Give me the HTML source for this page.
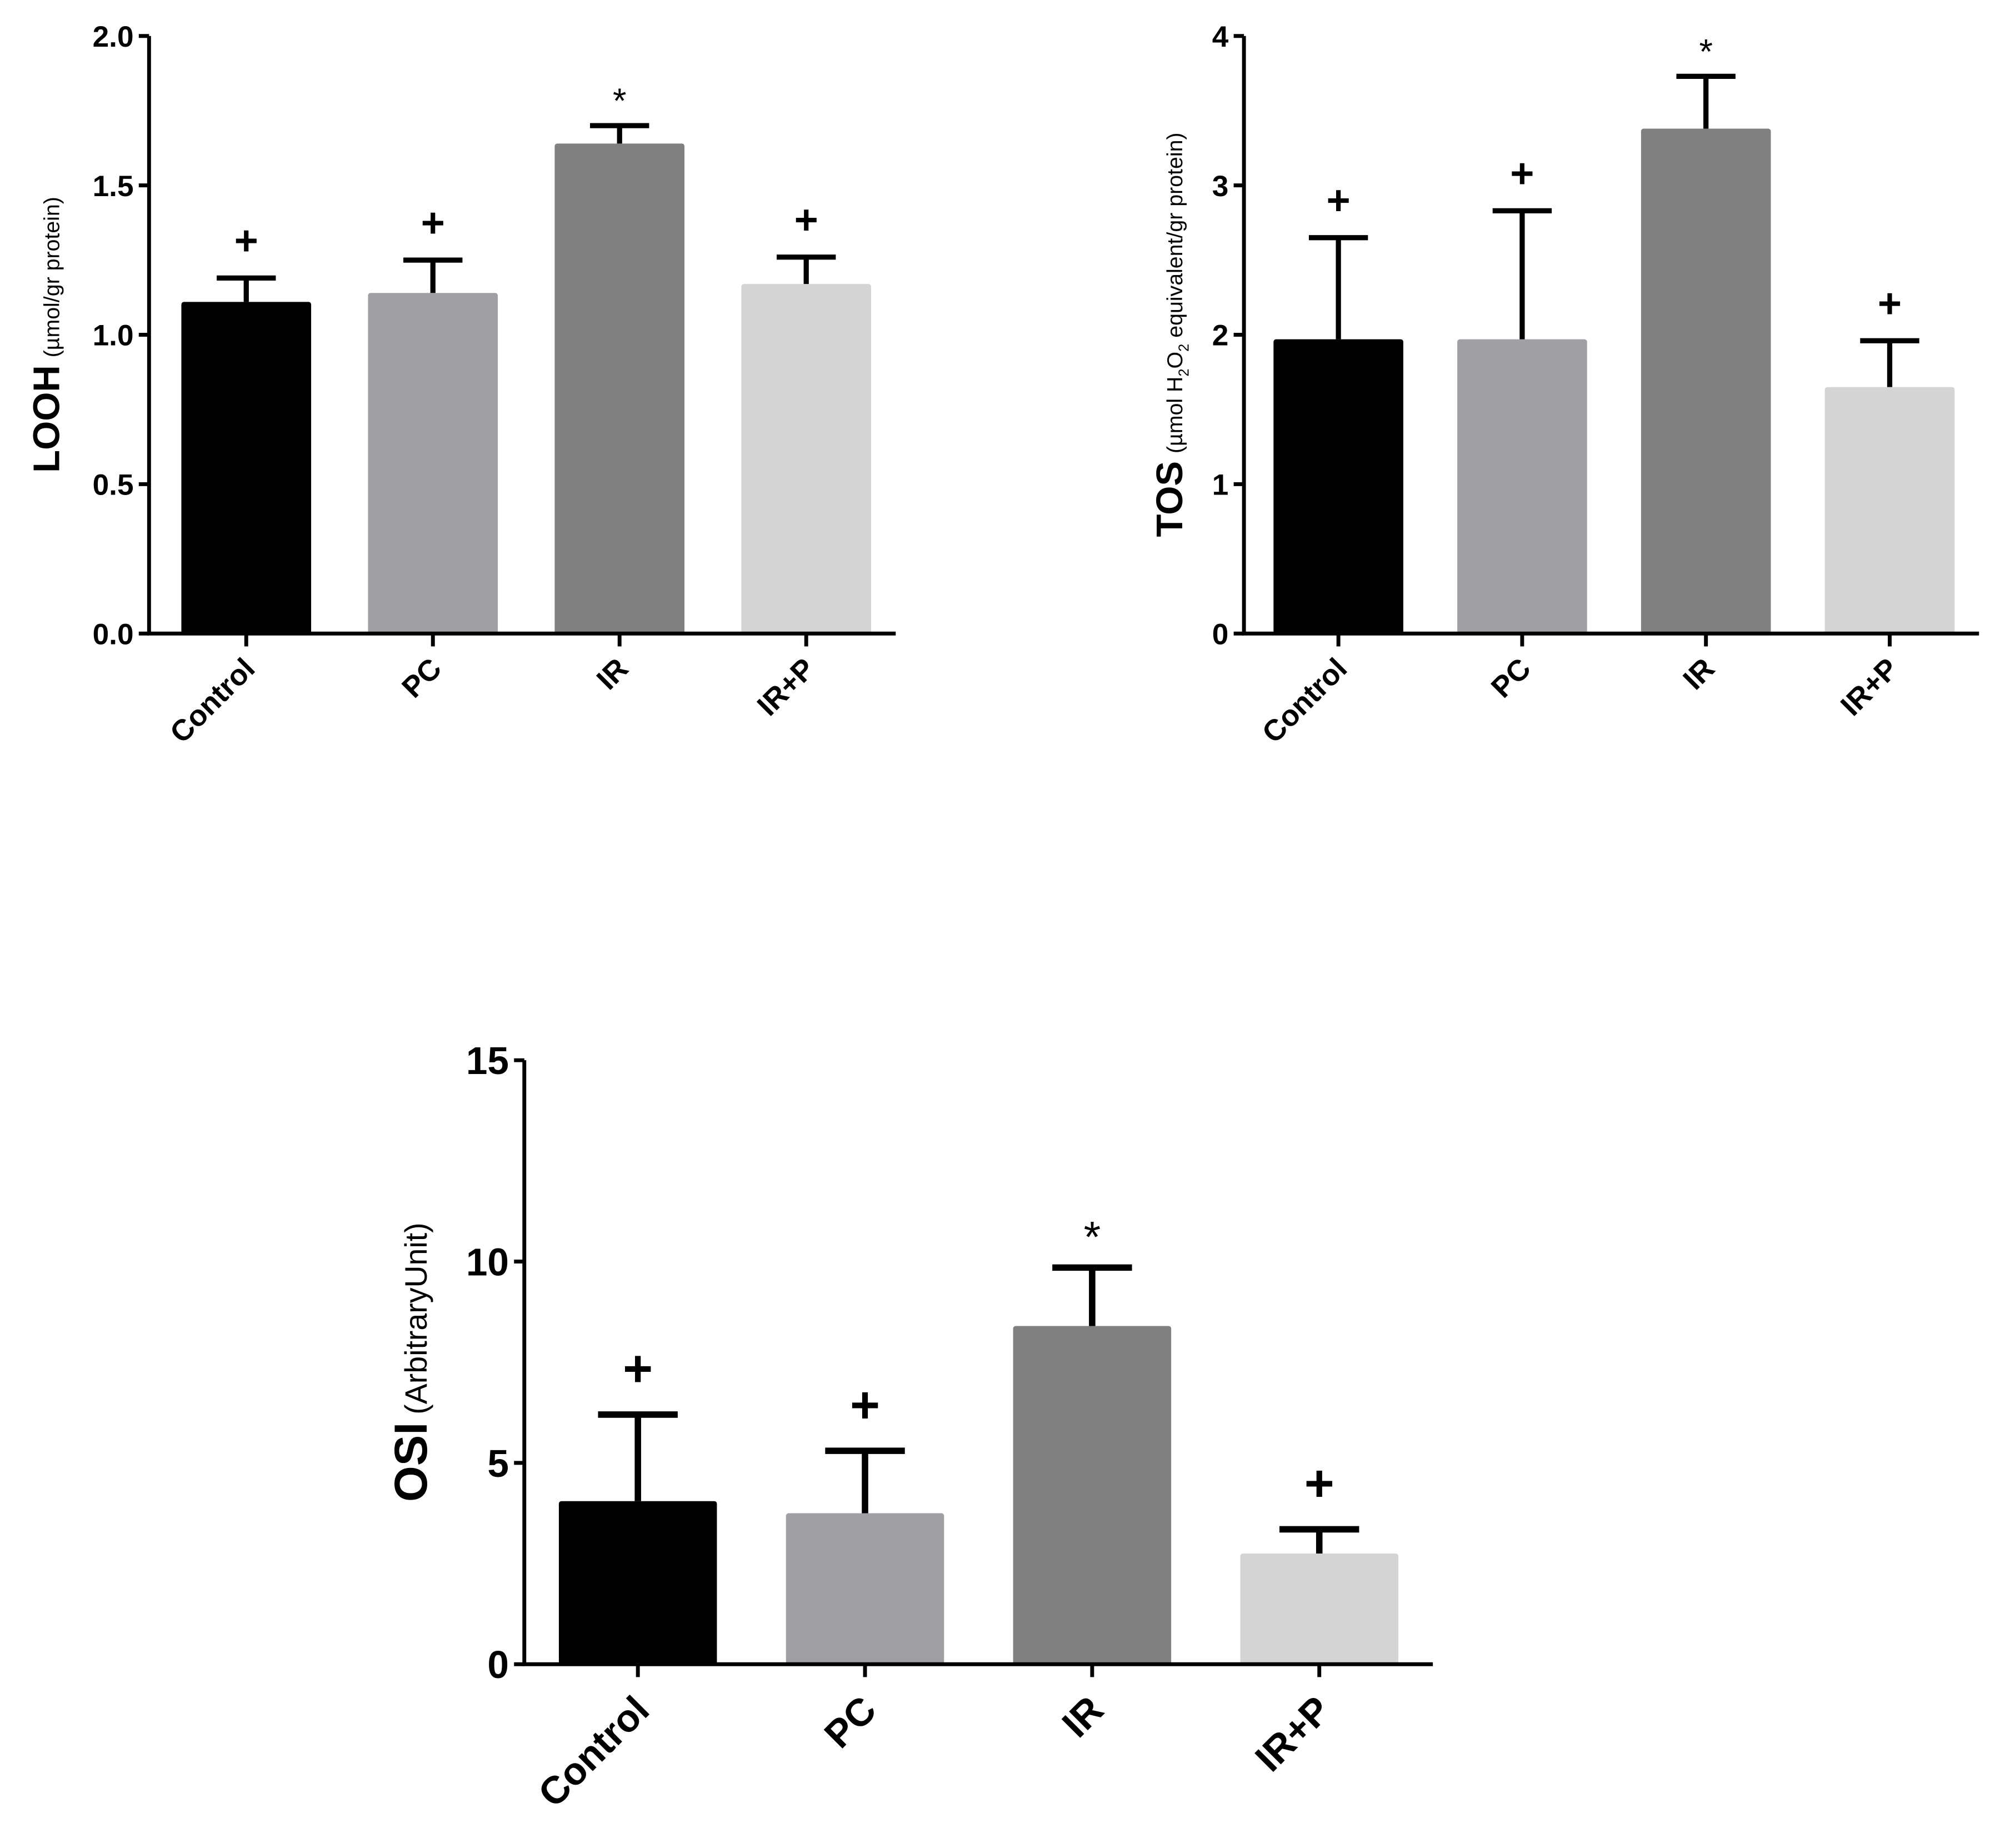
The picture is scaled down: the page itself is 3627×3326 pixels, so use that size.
<!DOCTYPE html>
<html><head><meta charset="utf-8">
<style>html,body{margin:0;padding:0;background:#fff}svg{display:block}text{font-family:"Liberation Sans",sans-serif}</style>
</head><body>
<svg id="fig" width="3627" height="3326" viewBox="0 0 1568 1438" preserveAspectRatio="none" xmlns="http://www.w3.org/2000/svg"></svg>
<script>
const categories = ["Control","PC","IR","IR+P"];
const barColors = ["#000000","#a0a0a4","#808080","#d4d4d4"];
const loohValues = [1.11,1.14,1.64,1.17];
const loohErrors = [1.19,1.25,1.70,1.26];
const loohTicks = ["0.0","0.5","1.0","1.5","2.0"];
const loohMarks = ["+","+","*","+"];
const tosValues = [1.97,1.97,3.38,1.65];
const tosErrors = [2.65,2.83,3.73,1.96];
const tosTicks = ["0","1","2","3","4"];
const tosMarks = ["+","+","*","+"];
const osiValues = [4.05,3.75,8.4,2.75];
const osiErrors = [6.2,5.3,9.85,3.35];
const osiTicks = ["0","5","10","15"];
const osiMarks = ["+","+","*","+"];

const svg = document.getElementById('fig');
const NS = "http://www.w3.org/2000/svg";
function mk(tag, attrs, parent){const e=document.createElementNS(NS,tag);for(const k in attrs)e.setAttribute(k,attrs[k]);(parent||svg).appendChild(e);return e;}

function drawChart(o){
  const g = mk('g',{});
  
  
  const ymax = parseFloat(o.ticks[o.ticks.length-1]);
  const y = v => o.y0 - (v/ymax)*(o.y0-o.yTop);
  const step = (o.xEnd - o.axisX) / o.cats.length;
  const xc = i => o.axisX + step*(i+0.5) - o.shift;
  o.vals.forEach((v,i)=>{
    const b = mk('rect',{x:xc(i)-o.bw/2,y:y(v),width:o.bw,height:o.y0-y(v),fill:barColors[i],rx:2},g);
    
    
    const e = mk('path',{d:`M${xc(i)} ${y(v)} V${y(o.errs[i])} M${xc(i)-o.cap/2} ${y(o.errs[i])} H${xc(i)+o.cap/2}`,stroke:'#000','stroke-width':o.ew,fill:'none'},g);
    
    
    const star = o.marks[i]==='*';
    const m = mk('text',{x:xc(i),y:y(o.errs[i])-(star?o.markGap*0.55:o.markGap),'text-anchor':'middle','font-size':star?o.markFs*0.85:o.markFs,'font-weight':star?'normal':'bold',fill:'#000'},g);
    m.textContent = o.marks[i];
    
    
  });
  const ax = mk('path',{d:`M${o.axisX} ${o.yTop} V${o.y0} H${o.xEnd}`,stroke:'#000','stroke-width':o.aw,fill:'none'},g);
  
  
  o.ticks.forEach(t=>{
    const v=parseFloat(t);
    mk('line',{x1:o.axisX-8,x2:o.axisX,y1:y(v),y2:y(v),stroke:'#000','stroke-width':o.aw},g);
    const tl = mk('text',{x:o.axisX-12,y:y(v)+o.tickFs*0.36,'text-anchor':'end','font-size':o.tickFs,'font-weight':'bold'},g);
    tl.textContent=t;
    
    
  });
  o.cats.forEach((c,i)=>{
    mk('line',{x1:xc(i),x2:xc(i),y1:o.y0,y2:o.y0+10,stroke:'#000','stroke-width':o.aw},g);
    const tx=xc(i)+o.catFs*0.35, ty=o.y0+o.catFs*1.25;
    const cl = mk('text',{x:tx,y:ty,'text-anchor':'end','font-size':o.catFs,'font-weight':'bold',transform:`rotate(-45 ${tx} ${ty})`},g);
    cl.textContent=c;
    
    
  });
  const tt = mk('text',{transform:`translate(${o.titleX} ${(o.yTop+o.y0)/2}) rotate(-90)`,'text-anchor':'middle'},g);
  
  
  tt.innerHTML = o.titleHTML;
}

drawChart({name:'looh-chart',cats:categories,vals:loohValues,errs:loohErrors,ticks:loohTicks,marks:loohMarks,
  axisX:116,yTop:28,y0:493,xEnd:697,shift:-3,bw:101,cap:46,ew:4,aw:3,tickFs:23,catFs:23,markFs:32,markGap:18,titleX:46,
  titleHTML:'<tspan font-weight="bold" font-size="29">LOOH</tspan><tspan font-size="17" dx="6">(µmol/gr protein)</tspan>'});
drawChart({name:'tos-chart',cats:categories,vals:tosValues,errs:tosErrors,ticks:tosTicks,marks:tosMarks,
  axisX:968,yTop:28,y0:493,xEnd:1540,shift:-2,bw:101,cap:46,ew:4,aw:3,tickFs:23,catFs:23,markFs:32,markGap:18,titleX:920,
  titleHTML:'<tspan font-weight="bold" font-size="29">TOS</tspan><tspan font-size="17" dx="6">(µmol H</tspan><tspan font-size="11" dy="5">2</tspan><tspan font-size="17" dy="-5">O</tspan><tspan font-size="11" dy="5">2</tspan><tspan font-size="17" dy="-5"> equivalent/gr protein)</tspan>'});
drawChart({name:'osi-chart',cats:categories,vals:osiValues,errs:osiErrors,ticks:osiTicks,marks:osiMarks,
  axisX:408,yTop:825,y0:1295,xEnd:1115,shift:0,bw:123,cap:62,ew:5,aw:3,tickFs:30,catFs:30,markFs:40,markGap:22,titleX:332,
  titleHTML:'<tspan font-weight="bold" font-size="36">OSI</tspan><tspan font-size="24" dx="6">(ArbitraryUnit)</tspan>'});
</script>
</body></html>
